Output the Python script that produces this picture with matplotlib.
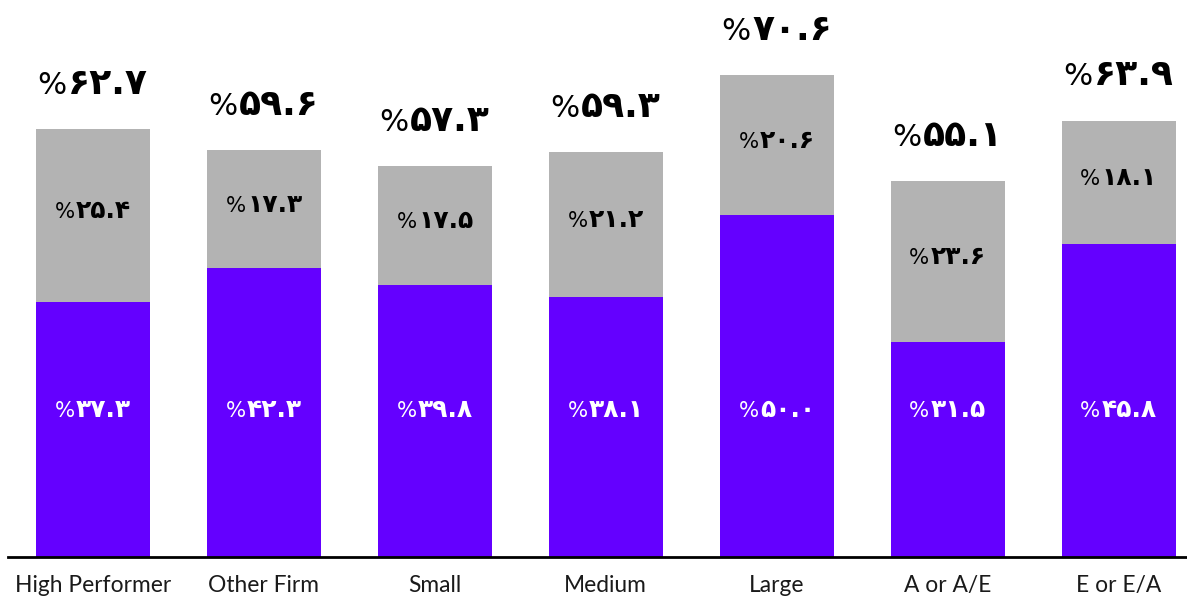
#!/usr/bin/env python3

import matplotlib
matplotlib.use('Agg')
import matplotlib.pyplot as plt
from matplotlib.offsetbox import TextArea, HPacker, AnnotationBbox

categories = ['High Performer', 'Other Firm', 'Small', 'Medium', 'Large', 'A or A/E', 'E or E/A']
purple_vals = [37.3, 42.3, 39.8, 38.1, 50.0, 31.5, 45.8]
gray_vals = [25.4, 17.3, 17.5, 21.2, 20.6, 23.6, 18.1]
totals = [62.7, 59.6, 57.3, 59.3, 70.6, 55.1, 63.9]

PURPLE = '#6400ff'
GRAY = '#b3b3b3'

def fa_digits(v):
    '''
    Number with Persian digits
    '''
    digits = '۰۱۲۳۴۵۶۷۸۹'
    return ''.join(digits[int(c)] if c.isdigit() else c for c in '%.1f' % v)

def put_label(ax, x, y, v, size, color):
    '''
    Thin % sign followed by bold digits, centred on (x, y)
    '''
    pct = TextArea('%', textprops=dict(fontsize=size * 0.85, color=color,
                                       fontweight='normal', family='DejaVu Sans'))
    num = TextArea(fa_digits(v), textprops=dict(fontsize=size, color=color,
                                                fontweight='bold', family='DejaVu Sans'))
    box = HPacker(children=[pct, num], align='baseline', pad=0, sep=1)
    ab = AnnotationBbox(box, (x, y), frameon=False, box_alignment=(0.5, 0.5),
                        pad=0, zorder=4)
    ax.add_artist(ab)

if __name__ == "__main__":
    fig = plt.figure(figsize=(11.87, 5.97), dpi=100)
    ax = fig.add_axes([8 / 1187, 40 / 597, 1 - 8 / 1187, 1 - 40 / 597])

    x = list(range(len(categories)))
    w = 0.667
    ax.bar(x, purple_vals, width=w, color=PURPLE, zorder=2)
    ax.bar(x, gray_vals, width=w, bottom=purple_vals, color=GRAY, zorder=2)

    for i in x:
        put_label(ax, i, 21.5, purple_vals[i], 18, 'white')
        put_label(ax, i, purple_vals[i] + gray_vals[i] / 2 + 0.6, gray_vals[i], 18, 'black')
        put_label(ax, i, totals[i] + 6.6, totals[i], 26, 'black')

    ax.set_xlim(-0.497, 6.4)
    ax.set_ylim(0, 81.55)
    ax.set_xticks(x)
    ax.set_xticklabels(categories, fontsize=16.4, family='Lato', color='#1a1a1a')
    ax.tick_params(axis='x', length=0, pad=13)
    ax.set_yticks([])
    for sp in ['top', 'right', 'left']:
        ax.spines[sp].set_visible(False)
    ax.spines['bottom'].set_linewidth(2)
    ax.spines['bottom'].set_zorder(3)

    fig.savefig('out.png', dpi=100)
